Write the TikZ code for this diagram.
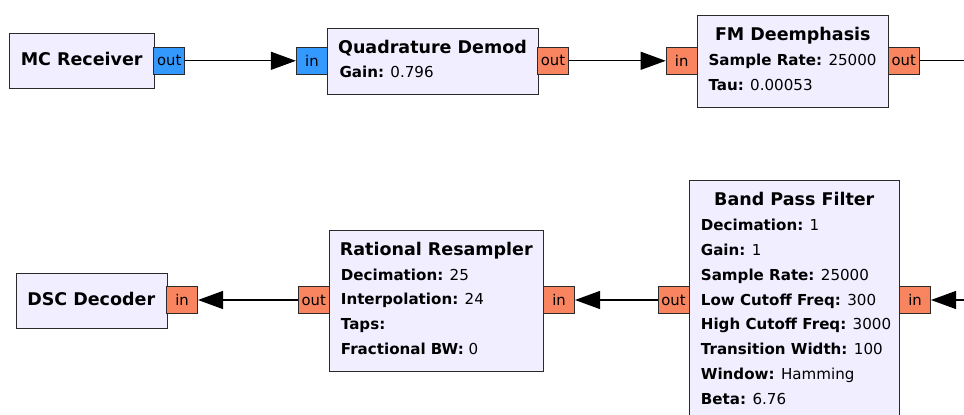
\documentclass[tikz,border=0pt]{standalone}
\usepackage{fontspec}
\setmainfont{DejaVu Sans}
\usetikzlibrary{arrows.meta}
\definecolor{blockfill}{HTML}{F1EEFF}
\definecolor{cplxport}{HTML}{3399FF}
\definecolor{floatport}{HTML}{F8855F}
\definecolor{edgegray}{HTML}{2A2A2A}
\begin{document}
\begin{tikzpicture}[x=1pt,y=-1pt,
  block/.style={draw=edgegray, fill=blockfill, line width=1pt, anchor=north west, inner sep=0pt},
  port/.style={draw=edgegray, line width=1pt, minimum width=31pt, minimum height=26.5pt, inner sep=0pt, font=\fontsize{14.8}{17}\selectfont},
  title/.style={anchor=base, inner sep=0pt, font=\fontsize{17.5}{20}\selectfont\bfseries},
  param/.style={anchor=base west, inner sep=0pt, font=\fontsize{15.1}{17}\selectfont},
  wire/.style={line width=1.1pt, -{Triangle[length=25pt, width=18pt]}}]
\useasboundingbox (0,0) rectangle (964,415);
\clip (0,0) rectangle (964,415);

% top row
\node[block, minimum width=144.7pt, minimum height=55pt] (mc) at (9.3,33.3) {};
\node[title] (mc-title) at (81.7,65.5) {MC Receiver};
\node[port, fill=cplxport] (mc-out) at (169.3,60.8) {out};

\node[block, minimum width=210.4pt, minimum height=66.6pt] (qd) at (327.3,27.7) {};
\node[title] (qd-title) at (432.5,53.5) {Quadrature Demod};
\node[param] (qd-p1) at (339.3,77.5) {\textbf{Gain:} 0.796};
\node[port, fill=cplxport] (qd-in) at (311.9,60.8) {in};
\node[port, fill=floatport] (qd-out) at (553,60.8) {out};

\node[block, minimum width=191pt, minimum height=92.3pt] (fm) at (697.3,15) {};
\node[title] (fm-title) at (792.8,40.7) {FM Deemphasis};
\node[param] (fm-p1) at (708.3,65.7) {\textbf{Sample Rate:} 25000};
\node[param] (fm-p2) at (708.3,90.7) {\textbf{Tau:} 0.00053};
\node[port, fill=floatport] (fm-in) at (681.7,60.8) {in};
\node[port, fill=floatport] (fm-out) at (903.8,60.8) {out};
\coordinate (fm-next) at (970,60.8);

% bottom row
\node[block, minimum width=151pt, minimum height=55pt] (dsc) at (15.7,272.7) {};
\node[title] (dsc-title) at (91.2,305) {DSC Decoder};
\node[port, fill=floatport] (dsc-in) at (182,300) {in};

\node[block, minimum width=214pt, minimum height=140.7pt] (rr) at (329.3,230) {};
\node[title] (rr-title) at (436.3,255.7) {Rational Resampler};
\foreach \k/\v [count=\i] in {Decimation/25, Interpolation/24, Taps/, Fractional BW/0}
  \node[param] (rr-p\i) at (340.7,280+24.8*\i-24.8) {\textbf{\k:} \v};
\node[port, fill=floatport] (rr-out) at (313.8,300) {out};
\node[port, fill=floatport] (rr-in) at (559,300) {in};

\node[block, minimum width=210pt, minimum height=260pt] (bpf) at (689.3,180) {};
\node[title] (bpf-title) at (794.3,205.7) {Band Pass Filter};
\foreach \k/\v [count=\i] in {Decimation/1, Gain/1, Sample Rate/25000, Low Cutoff Freq/300,
    High Cutoff Freq/3000, Transition Width/100, Window/Hamming, Beta/6.76}
  \node[param] (bpf-p\i) at (700.7,230.7+24.8*\i-24.8) {\textbf{\k:} \v};
\node[port, fill=floatport] (bpf-out) at (673.5,300) {out};
\node[port, fill=floatport] (bpf-in) at (915,300) {in};
\coordinate (bpf-prev) at (970,300);

% connections
\draw[wire] (mc-out.east) -- (qd-in.west);
\draw[wire] (qd-out.east) -- (fm-in.west);
\draw[line width=1.1pt] (fm-out.east) -- (fm-next);
\draw[wire] (rr-out.west) -- (dsc-in.east);
\draw[wire] (bpf-out.west) -- (rr-in.east);
\draw[wire] (bpf-prev) -- (bpf-in.east);
\end{tikzpicture}
\end{document}
